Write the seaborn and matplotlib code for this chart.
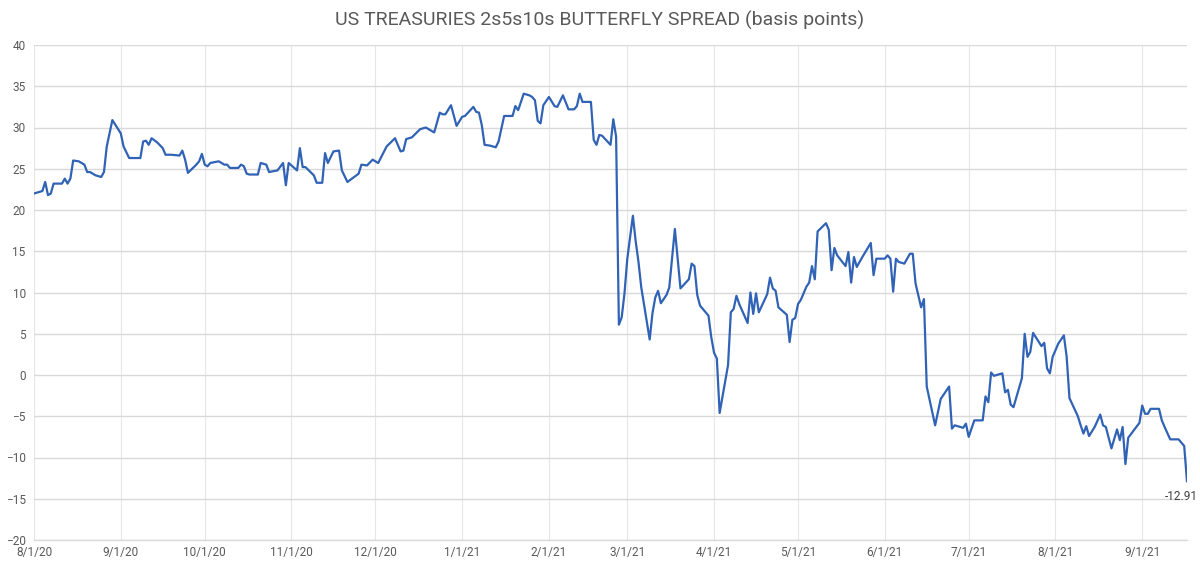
import matplotlib
matplotlib.use("Agg")
import matplotlib.pyplot as plt
import matplotlib.dates as mdates
from matplotlib.ticker import FuncFormatter
import seaborn as sns
import pandas as pd

title = "US TREASURIES 2s5s10s BUTTERFLY SPREAD (basis points)"

dates = [
    "2020-08-01", "2020-08-04", "2020-08-05", "2020-08-06", "2020-08-07", "2020-08-08",
    "2020-08-11", "2020-08-12", "2020-08-13", "2020-08-14", "2020-08-15", "2020-08-17",
    "2020-08-19", "2020-08-20", "2020-08-21", "2020-08-23", "2020-08-25", "2020-08-26",
    "2020-08-27", "2020-08-29", "2020-09-01", "2020-09-02", "2020-09-04", "2020-09-08",
    "2020-09-09", "2020-09-10", "2020-09-11", "2020-09-12", "2020-09-14", "2020-09-16",
    "2020-09-17", "2020-09-19", "2020-09-22", "2020-09-23", "2020-09-24", "2020-09-25",
    "2020-09-28", "2020-09-29", "2020-09-30", "2020-10-01", "2020-10-02", "2020-10-03",
    "2020-10-06", "2020-10-08", "2020-10-09", "2020-10-10", "2020-10-13", "2020-10-14",
    "2020-10-15", "2020-10-16", "2020-10-17", "2020-10-20", "2020-10-21", "2020-10-23",
    "2020-10-24", "2020-10-27", "2020-10-29", "2020-10-30", "2020-10-31", "2020-11-03",
    "2020-11-04", "2020-11-05", "2020-11-06", "2020-11-09", "2020-11-10", "2020-11-12",
    "2020-11-13", "2020-11-14", "2020-11-16", "2020-11-18", "2020-11-19", "2020-11-21",
    "2020-11-25", "2020-11-26", "2020-11-28", "2020-11-30", "2020-12-02", "2020-12-05",
    "2020-12-08", "2020-12-10", "2020-12-11", "2020-12-12", "2020-12-14", "2020-12-17",
    "2020-12-19", "2020-12-22", "2020-12-24", "2020-12-25", "2020-12-26", "2020-12-28",
    "2020-12-30", "2021-01-01", "2021-01-02", "2021-01-05", "2021-01-06", "2021-01-07",
    "2021-01-08", "2021-01-09", "2021-01-11", "2021-01-13", "2021-01-14", "2021-01-16",
    "2021-01-19", "2021-01-20", "2021-01-21", "2021-01-23", "2021-01-25", "2021-01-26",
    "2021-01-27", "2021-01-28", "2021-01-29", "2021-01-30", "2021-02-01", "2021-02-03",
    "2021-02-04", "2021-02-06", "2021-02-08", "2021-02-10", "2021-02-11", "2021-02-12",
    "2021-02-13", "2021-02-16", "2021-02-17", "2021-02-18", "2021-02-19", "2021-02-20",
    "2021-02-23", "2021-02-24", "2021-02-25", "2021-02-26", "2021-02-27", "2021-02-28",
    "2021-03-01", "2021-03-03", "2021-03-04", "2021-03-05", "2021-03-06", "2021-03-09",
    "2021-03-10", "2021-03-11", "2021-03-12", "2021-03-13", "2021-03-15", "2021-03-16",
    "2021-03-18", "2021-03-20", "2021-03-23", "2021-03-24", "2021-03-25", "2021-03-26",
    "2021-03-27", "2021-03-30", "2021-03-31", "2021-04-01", "2021-04-02", "2021-04-03",
    "2021-04-06", "2021-04-07", "2021-04-08", "2021-04-09", "2021-04-10", "2021-04-13",
    "2021-04-14", "2021-04-15", "2021-04-16", "2021-04-17", "2021-04-20", "2021-04-21",
    "2021-04-22", "2021-04-23", "2021-04-24", "2021-04-27", "2021-04-28", "2021-04-29",
    "2021-04-30", "2021-05-01", "2021-05-02", "2021-05-04", "2021-05-05", "2021-05-06",
    "2021-05-07", "2021-05-08", "2021-05-11", "2021-05-12", "2021-05-13", "2021-05-14",
    "2021-05-15", "2021-05-18", "2021-05-19", "2021-05-20", "2021-05-21", "2021-05-22",
    "2021-05-24", "2021-05-27", "2021-05-28", "2021-05-29", "2021-06-01", "2021-06-02",
    "2021-06-03", "2021-06-04", "2021-06-05", "2021-06-06", "2021-06-08", "2021-06-10",
    "2021-06-11", "2021-06-12", "2021-06-14", "2021-06-15", "2021-06-16", "2021-06-19",
    "2021-06-21", "2021-06-24", "2021-06-25", "2021-06-26", "2021-06-29", "2021-06-30",
    "2021-07-01", "2021-07-03", "2021-07-06", "2021-07-07", "2021-07-08", "2021-07-09",
    "2021-07-10", "2021-07-13", "2021-07-14", "2021-07-15", "2021-07-16", "2021-07-17",
    "2021-07-20", "2021-07-21", "2021-07-22", "2021-07-23", "2021-07-24", "2021-07-27",
    "2021-07-28", "2021-07-29", "2021-07-30", "2021-07-31", "2021-08-02", "2021-08-04",
    "2021-08-05", "2021-08-06", "2021-08-09", "2021-08-10", "2021-08-11", "2021-08-12",
    "2021-08-13", "2021-08-15", "2021-08-17", "2021-08-18", "2021-08-19", "2021-08-21",
    "2021-08-23", "2021-08-24", "2021-08-25", "2021-08-26", "2021-08-27", "2021-08-31",
    "2021-09-01", "2021-09-02", "2021-09-03", "2021-09-04", "2021-09-07", "2021-09-08",
    "2021-09-09", "2021-09-11", "2021-09-14", "2021-09-16", "2021-09-17",
]

spread = [
    22.0, 22.3, 23.4, 21.8, 22.0, 23.2,
    23.2, 23.8, 23.2, 23.8, 26.0, 25.9,
    25.5, 24.6, 24.6, 24.2, 24.0, 24.6,
    27.7, 30.9, 29.3, 27.7, 26.3, 26.3,
    28.3, 28.4, 27.9, 28.7, 28.2, 27.5,
    26.7, 26.7, 26.6, 27.2, 26.1, 24.5,
    25.5, 25.9, 26.8, 25.5, 25.3, 25.7,
    25.9, 25.5, 25.5, 25.1, 25.1, 25.5,
    25.3, 24.4, 24.3, 24.3, 25.7, 25.5,
    24.6, 24.8, 25.7, 23.0, 25.7, 24.8,
    27.5, 25.2, 25.2, 24.2, 23.3, 23.3,
    26.9, 25.7, 27.1, 27.2, 24.8, 23.4,
    24.4, 25.5, 25.4, 26.1, 25.7, 27.7,
    28.7, 27.1, 27.2, 28.6, 28.8, 29.8,
    30.0, 29.4, 31.8, 31.6, 31.6, 32.7,
    30.2, 31.3, 31.4, 32.5, 31.9, 31.8,
    30.3, 27.9, 27.8, 27.6, 28.3, 31.4,
    31.4, 32.6, 32.1, 34.1, 33.9, 33.7,
    33.3, 30.8, 30.5, 32.7, 33.7, 32.6,
    32.5, 33.9, 32.2, 32.2, 32.6, 34.1,
    33.1, 33.1, 28.5, 27.9, 29.1, 29.0,
    27.9, 31.0, 28.9, 6.1, 7.0, 9.9,
    14.1, 19.3, 16.2, 13.7, 10.6, 4.3,
    7.5, 9.4, 10.2, 8.7, 9.7, 10.6,
    17.7, 10.5, 11.6, 13.5, 13.2, 9.7,
    8.4, 7.2, 4.6, 2.7, 2.0, -4.6,
    1.2, 7.6, 8.0, 9.6, 8.6, 6.3,
    10.0, 7.4, 9.9, 7.6, 9.8, 11.8,
    10.5, 10.2, 8.2, 7.3, 4.0, 6.7,
    6.9, 8.6, 9.1, 10.7, 11.2, 13.2,
    11.6, 17.4, 18.4, 17.6, 12.7, 15.4,
    14.5, 13.2, 14.9, 11.2, 14.3, 13.1,
    14.3, 16.0, 12.1, 14.1, 14.1, 14.5,
    14.1, 10.1, 14.1, 13.7, 13.5, 14.7,
    14.7, 11.1, 8.2, 9.2, -1.4, -6.1,
    -2.9, -1.4, -6.5, -6.1, -6.4, -5.9,
    -7.5, -5.5, -5.5, -2.6, -3.3, 0.3,
    -0.1, 0.2, -2.1, -1.8, -3.6, -3.9,
    -0.4, 5.0, 2.2, 2.8, 5.1, 3.5,
    3.9, 0.8, 0.2, 2.2, 3.8, 4.8,
    2.2, -2.8, -5.0, -6.1, -7.1, -6.2,
    -7.4, -6.3, -4.8, -6.1, -6.3, -8.9,
    -6.6, -7.9, -6.3, -10.8, -7.6, -5.8,
    -3.7, -4.7, -4.7, -4.1, -4.1, -5.5,
    -6.3, -7.8, -7.8, -8.6, -12.91,
]

month_ticks = pd.date_range("2020-08-01", "2021-09-01", freq="MS")
y_ticks = list(range(-20, 41, 5))

df = pd.DataFrame({"date": pd.to_datetime(dates), "spread": spread})

sns.set_theme(style="white")
plt.rcParams["font.family"] = ["Roboto", "DejaVu Sans"]

fig = plt.figure(figsize=(12, 5.67), dpi=100)
ax = fig.add_axes([34 / 1200, 1 - 540 / 567, (1187 - 34) / 1200, (540 - 45) / 567])

line_color = "#3062B5"
sns.lineplot(data=df, x="date", y="spread", ax=ax, color=line_color, linewidth=1.6)

ax.set_xlim(pd.Timestamp("2020-08-01"), df["date"].iloc[-1])
ax.set_ylim(-20, 40)
ax.set_yticks(y_ticks)
ax.set_xticks(month_ticks)
ax.xaxis.set_major_formatter(FuncFormatter(
    lambda v, p: (lambda d: f"{d.month}/{d.day}/{d.year % 100}")(mdates.num2date(v))))

ax.grid(axis="y", color="#D9D9D9", linewidth=1.0)
ax.grid(axis="x", color="#E6E6E6", linewidth=0.8)
ax.set_axisbelow(True)
for s in ["top", "right", "left"]:
    ax.spines[s].set_visible(False)
ax.spines["bottom"].set_color("#D9D9D9")
ax.spines["bottom"].set_linewidth(1.0)

ax.tick_params(axis="both", length=0, labelsize=8.5, labelcolor="#595959")
ax.tick_params(axis="y", pad=6)
ax.tick_params(axis="x", pad=4)
ax.set_xlabel("")
ax.set_ylabel("")

last_date = df["date"].iloc[-1]
last_val = df["spread"].iloc[-1]
ax.annotate(f"{last_val:.2f}", xy=(last_date, last_val), xytext=(8, -6),
            textcoords="offset points", ha="right", va="top",
            fontsize=8.5, color="#404040", annotation_clip=False)

fig.text(0.5, 1 - 20 / 567, title, ha="center", va="center",
         fontsize=14, color="#595959")

fig.savefig("out.png", dpi=100)
